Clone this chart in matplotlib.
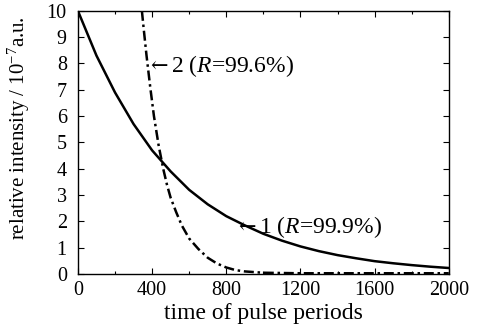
import matplotlib
matplotlib.use("Agg")
import matplotlib.pyplot as plt
from matplotlib.ticker import MultipleLocator

plt.rcParams["font.family"] = ["Liberation Serif", "DejaVu Serif"]
plt.rcParams["mathtext.fontset"] = "custom"
plt.rcParams["mathtext.rm"] = "Liberation Serif"
plt.rcParams["mathtext.it"] = "Liberation Serif:italic"

# curve 1 (R = 99.9%)
x1 = [0, 100, 200, 300, 400, 500, 600, 700, 800, 900, 1000,
      1100, 1200, 1300, 1400, 1500, 1600, 1700, 1800, 1900, 2000]
y1 = [10.0, 8.3, 6.9, 5.7, 4.7, 3.9, 3.2, 2.65, 2.2, 1.85, 1.53,
      1.27, 1.05, 0.87, 0.72, 0.6, 0.49, 0.41, 0.34, 0.28, 0.23]

# curve 2 (R = 99.6%)
x2 = [345, 355, 370, 390, 410, 435, 460, 480, 500, 530, 560, 600,
      650, 700, 750, 800, 850, 900, 1000, 1200, 1600, 2000]
y2 = [10.0, 9.3, 8.3, 7.1, 6.0, 4.9, 4.0, 3.4, 2.9, 2.35, 1.85, 1.35,
      0.95, 0.62, 0.4, 0.25, 0.15, 0.1, 0.05, 0.03, 0.03, 0.03]

fig = plt.figure(figsize=(4.81, 3.29), dpi=100)
ax = fig.add_axes([0.162, 0.167, 0.771, 0.800])

ax.plot(x1, y1, color="black", lw=1.8)
ax.plot(x2, y2, color="black", lw=1.8, linestyle=(0, (4, 1.5, 1, 1.5)))

ax.set_xlim(0, 2000)
ax.set_ylim(0, 10)
ax.xaxis.set_major_locator(MultipleLocator(400))
ax.xaxis.set_minor_locator(MultipleLocator(200))
ax.yaxis.set_major_locator(MultipleLocator(1))
ax.tick_params(which="both", direction="in", top=True, right=True,
               labelsize=14.5, width=0.8)
ax.tick_params(which="major", length=4)
ax.tick_params(axis="x", which="major", pad=5)
ax.tick_params(axis="y", which="major", pad=8)
ax.tick_params(which="minor", length=2.5)
for s in ax.spines.values():
    s.set_linewidth(1.0)

ax.set_xlabel("time of pulse periods", fontsize=17, labelpad=2)
ax.set_ylabel("relative intensity / 10$^{-7}$a.u.", fontsize=15)
ax.yaxis.set_label_coords(-0.125, 0.555)

ax.text(388, 7.9, "\u2190", fontsize=15, va="center", ha="left",
        family=["DejaVu Serif"])
ax.text(500, 7.9, "2 ($\\it{R}$=99.6%)", fontsize=17, va="center", ha="left")
ax.text(863, 1.8, "\u2190", fontsize=15, va="center", ha="left",
        family=["DejaVu Serif"])
ax.text(975, 1.8, "1 ($\\it{R}$=99.9%)", fontsize=17, va="center", ha="left")

fig.savefig("out.png", dpi=100)
